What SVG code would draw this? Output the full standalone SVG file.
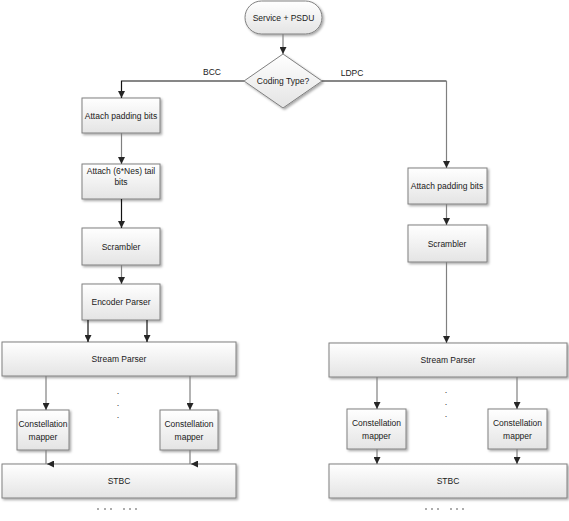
<svg xmlns="http://www.w3.org/2000/svg" width="569" height="521" viewBox="0 0 569 521">
<defs>
<linearGradient id="g" x1="0" y1="0" x2="0" y2="1">
<stop offset="0" stop-color="#ffffff"/>
<stop offset="1" stop-color="#e4e4e4"/>
</linearGradient>
<filter id="sh" x="-10%" y="-10%" width="130%" height="140%">
<feDropShadow dx="1.5" dy="1.5" stdDeviation="0.8" flood-color="#000" flood-opacity="0.35"/>
</filter>
<marker id="ah" viewBox="0 0 10 10" refX="10" refY="5" markerWidth="7" markerHeight="7" markerUnits="userSpaceOnUse" orient="auto">
<path d="M0,0 L10,5 L0,10 Z" fill="#262626"/>
</marker>
</defs>
<style>
.box{fill:url(#g);stroke:#808080;stroke-width:1;filter:url(#sh)}
.t{font-family:"Liberation Sans",Arial,sans-serif;font-size:8.5px;fill:#1a1a1a;text-anchor:middle}
.k{fill:none;stroke:#111;stroke-width:1.2}
.gy{fill:none;stroke:#808080;stroke-width:1.2}
.dot{font-family:"Liberation Sans",Arial,sans-serif;font-size:9px;fill:#333;text-anchor:middle}
.d{fill:#444}
</style>
<rect width="569" height="521" fill="#fff"/>
<g id="start"><rect class="box" x="245" y="1" width="77" height="33" rx="16.5"/><text class="t" x="283.5" y="21">Service + PSDU</text></g>
<g id="decision"><path class="box" d="M283,54 L322,81 L283,108 L244,81 Z"/><text class="t" x="283" y="84">Coding Type?</text></g>
<g id="l-pad"><rect class="box" x="82" y="98" width="78" height="35"/><text class="t" x="121" y="119">Attach padding bits</text></g>
<g id="l-tail"><rect class="box" x="82" y="164" width="78" height="35"/><text class="t" x="121" y="174">Attach (6*Nes) tail</text><text class="t" x="121" y="185">bits</text></g>
<g id="l-scr"><rect class="box" x="82" y="228" width="78" height="37"/><text class="t" x="121" y="250">Scrambler</text></g>
<g id="l-enc"><rect class="box" x="82" y="284" width="78" height="36"/><text class="t" x="121" y="305">Encoder Parser</text></g>
<g id="l-sp"><rect class="box" x="2" y="342" width="234" height="34"/><text class="t" x="119" y="362">Stream Parser</text></g>
<g id="l-cm1"><rect class="box" x="17" y="410" width="52" height="40"/><text class="t" x="43" y="427">Constellation</text><text class="t" x="43" y="440">mapper</text></g>
<g id="l-cm2"><rect class="box" x="160" y="410" width="58" height="40"/><text class="t" x="189" y="427">Constellation</text><text class="t" x="189" y="440">mapper</text></g>
<g id="l-stbc"><rect class="box" x="2" y="464" width="234" height="34"/><text class="t" x="119" y="484">STBC</text></g>
<g id="r-pad"><rect class="box" x="408" y="168" width="79" height="36"/><text class="t" x="447" y="189">Attach padding bits</text></g>
<g id="r-scr"><rect class="box" x="408" y="225" width="79" height="37"/><text class="t" x="447" y="247">Scrambler</text></g>
<g id="r-sp"><rect class="box" x="329" y="343" width="238" height="34"/><text class="t" x="448" y="363">Stream Parser</text></g>
<g id="r-cm1"><rect class="box" x="347" y="409" width="59" height="40"/><text class="t" x="376.5" y="426">Constellation</text><text class="t" x="376.5" y="439">mapper</text></g>
<g id="r-cm2"><rect class="box" x="488" y="409" width="59" height="40"/><text class="t" x="517.5" y="426">Constellation</text><text class="t" x="517.5" y="439">mapper</text></g>
<g id="r-stbc"><rect class="box" x="329" y="464" width="238" height="34"/><text class="t" x="448" y="484">STBC</text></g>
<g id="connectors">
<path class="gy" d="M283,34 V54" marker-end="url(#ah)"/>
<path class="k" d="M244,81 H121.5 V98" marker-end="url(#ah)"/>
<path class="k" d="M322,81 H446.5"/>
<path class="gy" d="M446.5,81 V168" marker-end="url(#ah)"/>
<path class="gy" d="M121.5,133 V164" marker-end="url(#ah)"/>
<path class="k" d="M121.5,199 V228" marker-end="url(#ah)"/>
<path class="gy" d="M121.5,265 V284" marker-end="url(#ah)"/>
<path class="k" d="M88,320 V342" marker-end="url(#ah)"/>
<path class="k" d="M147,320 V342" marker-end="url(#ah)"/>
<path class="gy" d="M46,376 V410" marker-end="url(#ah)"/>
<path class="gy" d="M190,376 V410" marker-end="url(#ah)"/>
<path class="gy" d="M46,450 V464 M54,464 H47" marker-end="url(#ah)"/>
<path class="gy" d="M190,450 V464 M198,464 H191" marker-end="url(#ah)"/>
<path class="gy" d="M446.5,204 V225" marker-end="url(#ah)"/>
<path class="gy" d="M446.5,262 V343" marker-end="url(#ah)"/>
<path class="gy" d="M377,377 V409" marker-end="url(#ah)"/>
<path class="gy" d="M517,377 V409" marker-end="url(#ah)"/>
<path class="gy" d="M377,449 V464" marker-end="url(#ah)"/>
<path class="gy" d="M517,449 V464" marker-end="url(#ah)"/>
<text class="t" x="212" y="75">BCC</text>
<text class="t" x="352" y="76">LDPC</text>
</g>
<g id="dots">
<text class="dot" x="118" y="394">.</text><text class="dot" x="118" y="406">.</text><text class="dot" x="118" y="418">.</text>
<text class="dot" x="446" y="393">.</text><text class="dot" x="446" y="405">.</text><text class="dot" x="446" y="417">.</text>
<circle class="d" cx="98" cy="509" r="0.8"/><circle class="d" cx="105" cy="509" r="0.8"/><circle class="d" cx="111" cy="509" r="0.8"/>
<circle class="d" cx="124" cy="509" r="0.8"/><circle class="d" cx="130" cy="509" r="0.8"/><circle class="d" cx="136" cy="509" r="0.8"/>
<circle class="d" cx="426" cy="509" r="0.8"/><circle class="d" cx="432" cy="509" r="0.8"/><circle class="d" cx="438" cy="509" r="0.8"/>
<circle class="d" cx="451" cy="509" r="0.8"/><circle class="d" cx="457" cy="509" r="0.8"/><circle class="d" cx="463" cy="509" r="0.8"/>
</g>
</svg>
